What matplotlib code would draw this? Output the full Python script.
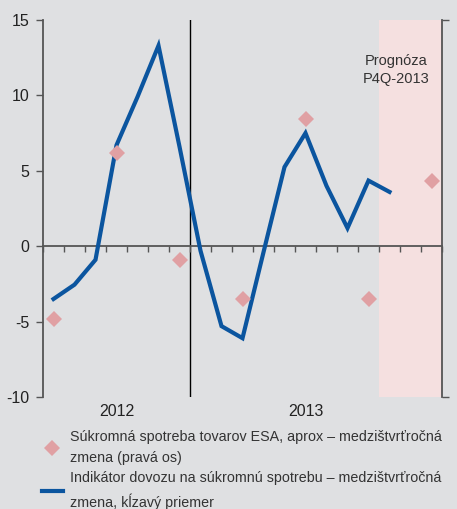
import matplotlib
matplotlib.use("Agg")
import matplotlib.pyplot as plt
import numpy as np

# ---- data ----
line_months = list(range(17))            # monthly index from Jan 2012
import_indicator = [-3.5, -2.55, -0.9, 6.7, 9.9, 13.3, 6.6, -0.3, -5.3, -6.1,
                    -0.4, 5.25, 7.5, 4.0, 1.2, 4.35, 3.6]
quarter_months = [0, 3, 6, 9, 12, 15, 18]
private_consumption = [-4.8, 6.2, -0.9, -3.5, 8.45, -3.5, 4.35]
year_labels = ["2012", "2013"]
year_label_pos = [3.0, 12.0]
year_divider = 6.5
forecast_span = (15.5, 18.5)
yticks_left = [-10, -5, 0, 5, 10, 15]

label_diamond = "Súkromná spotreba tovarov ESA, aprox – medzištvrťročná\nzmena (pravá os)"
label_line = "Indikátor dovozu na súkromnú spotrebu – medzištvrťročná\nzmena, kĺzavý priemer"
forecast_text = "Prognóza\nP4Q-2013"

BG = "#dfe0e2"
BLUE = "#0b559f"
PINK = "#e0a0a3"
SHADE = "#f5e0e0"
AXC = "#555555"
narrow = ["Liberation Sans Narrow", "Liberation Sans", "DejaVu Sans"]
normal = ["Liberation Sans", "DejaVu Sans"]

fig = plt.figure(figsize=(4.57, 5.09), dpi=100, facecolor=BG)
ax = fig.add_axes([43/457, 1-397/509, (442-43)/457, (397-20)/509])
ax.set_facecolor(BG)
ax.set_xlim(-0.5, 18.5)
ax.set_ylim(-10, 15)

ax.axvspan(*forecast_span, color=SHADE, zorder=0, lw=0)
ax.axvline(year_divider, color="black", lw=1.0, zorder=1)

ln, = ax.plot(line_months, import_indicator, color=BLUE, lw=3.0,
              solid_joinstyle="miter", zorder=4)

ax2 = ax.twinx()
ax2.set_ylim(-10, 15)
dm, = ax2.plot(quarter_months, private_consumption, linestyle="none", marker="D",
               markersize=8, color=PINK, markeredgewidth=0, zorder=3)

# spines
for s in ["top", "right"]:
    ax.spines[s].set_visible(False)
ax.spines["left"].set_color(AXC)
ax.spines["left"].set_linewidth(1.3)
ax.spines["bottom"].set_position(("data", 0))
ax.spines["bottom"].set_color(AXC)
ax.spines["bottom"].set_linewidth(1.3)
for s in ["top", "left", "bottom"]:
    ax2.spines[s].set_visible(False)
ax2.spines["right"].set_color(AXC)
ax2.spines["right"].set_linewidth(1.3)

ax.set_xticks(np.arange(-0.5, 19.0, 1.0))
ax.tick_params(axis="x", direction="out", length=4, width=1, color=AXC,
               labelbottom=False)
ax.set_yticks(yticks_left)
ax.set_yticklabels([str(v) for v in yticks_left])
ax.tick_params(axis="y", direction="out", length=5, width=1, color=AXC,
               pad=5, labelsize=11.5, labelcolor="#222222")
for t in ax.get_yticklabels():
    t.set_family(narrow)

ax2.set_yticks([-10, 15])
ax2.set_yticklabels(["-10", "15"])
ax2.tick_params(axis="y", direction="out", length=5, width=1, color=AXC,
                pad=5, labelsize=11.5, labelcolor="#222222")
for t in ax2.get_yticklabels():
    t.set_family(narrow)

for lab, pos in zip(year_labels, year_label_pos):
    ax.text(pos, -10.45, lab, ha="center", va="top", fontsize=11.5,
            family=narrow, color="#222222")

ax.text(16.3, 11.7, forecast_text, ha="center", va="center", fontsize=10.5,
        family=narrow, color="#333333", linespacing=1.35)

leg = fig.legend([dm, ln], [label_diamond, label_line],
                 loc="upper left", bbox_to_anchor=(42/457, 1-430/509),
                 frameon=False, prop={"family": normal, "size": 10.3},
                 handlelength=1.45, handletextpad=0.5, labelspacing=0.45,
                 borderaxespad=0, borderpad=0)
for t in leg.get_texts():
    t.set_color("#333333")
    t.set_linespacing(1.6)

fig.savefig("out.png", dpi=100, facecolor=BG)
